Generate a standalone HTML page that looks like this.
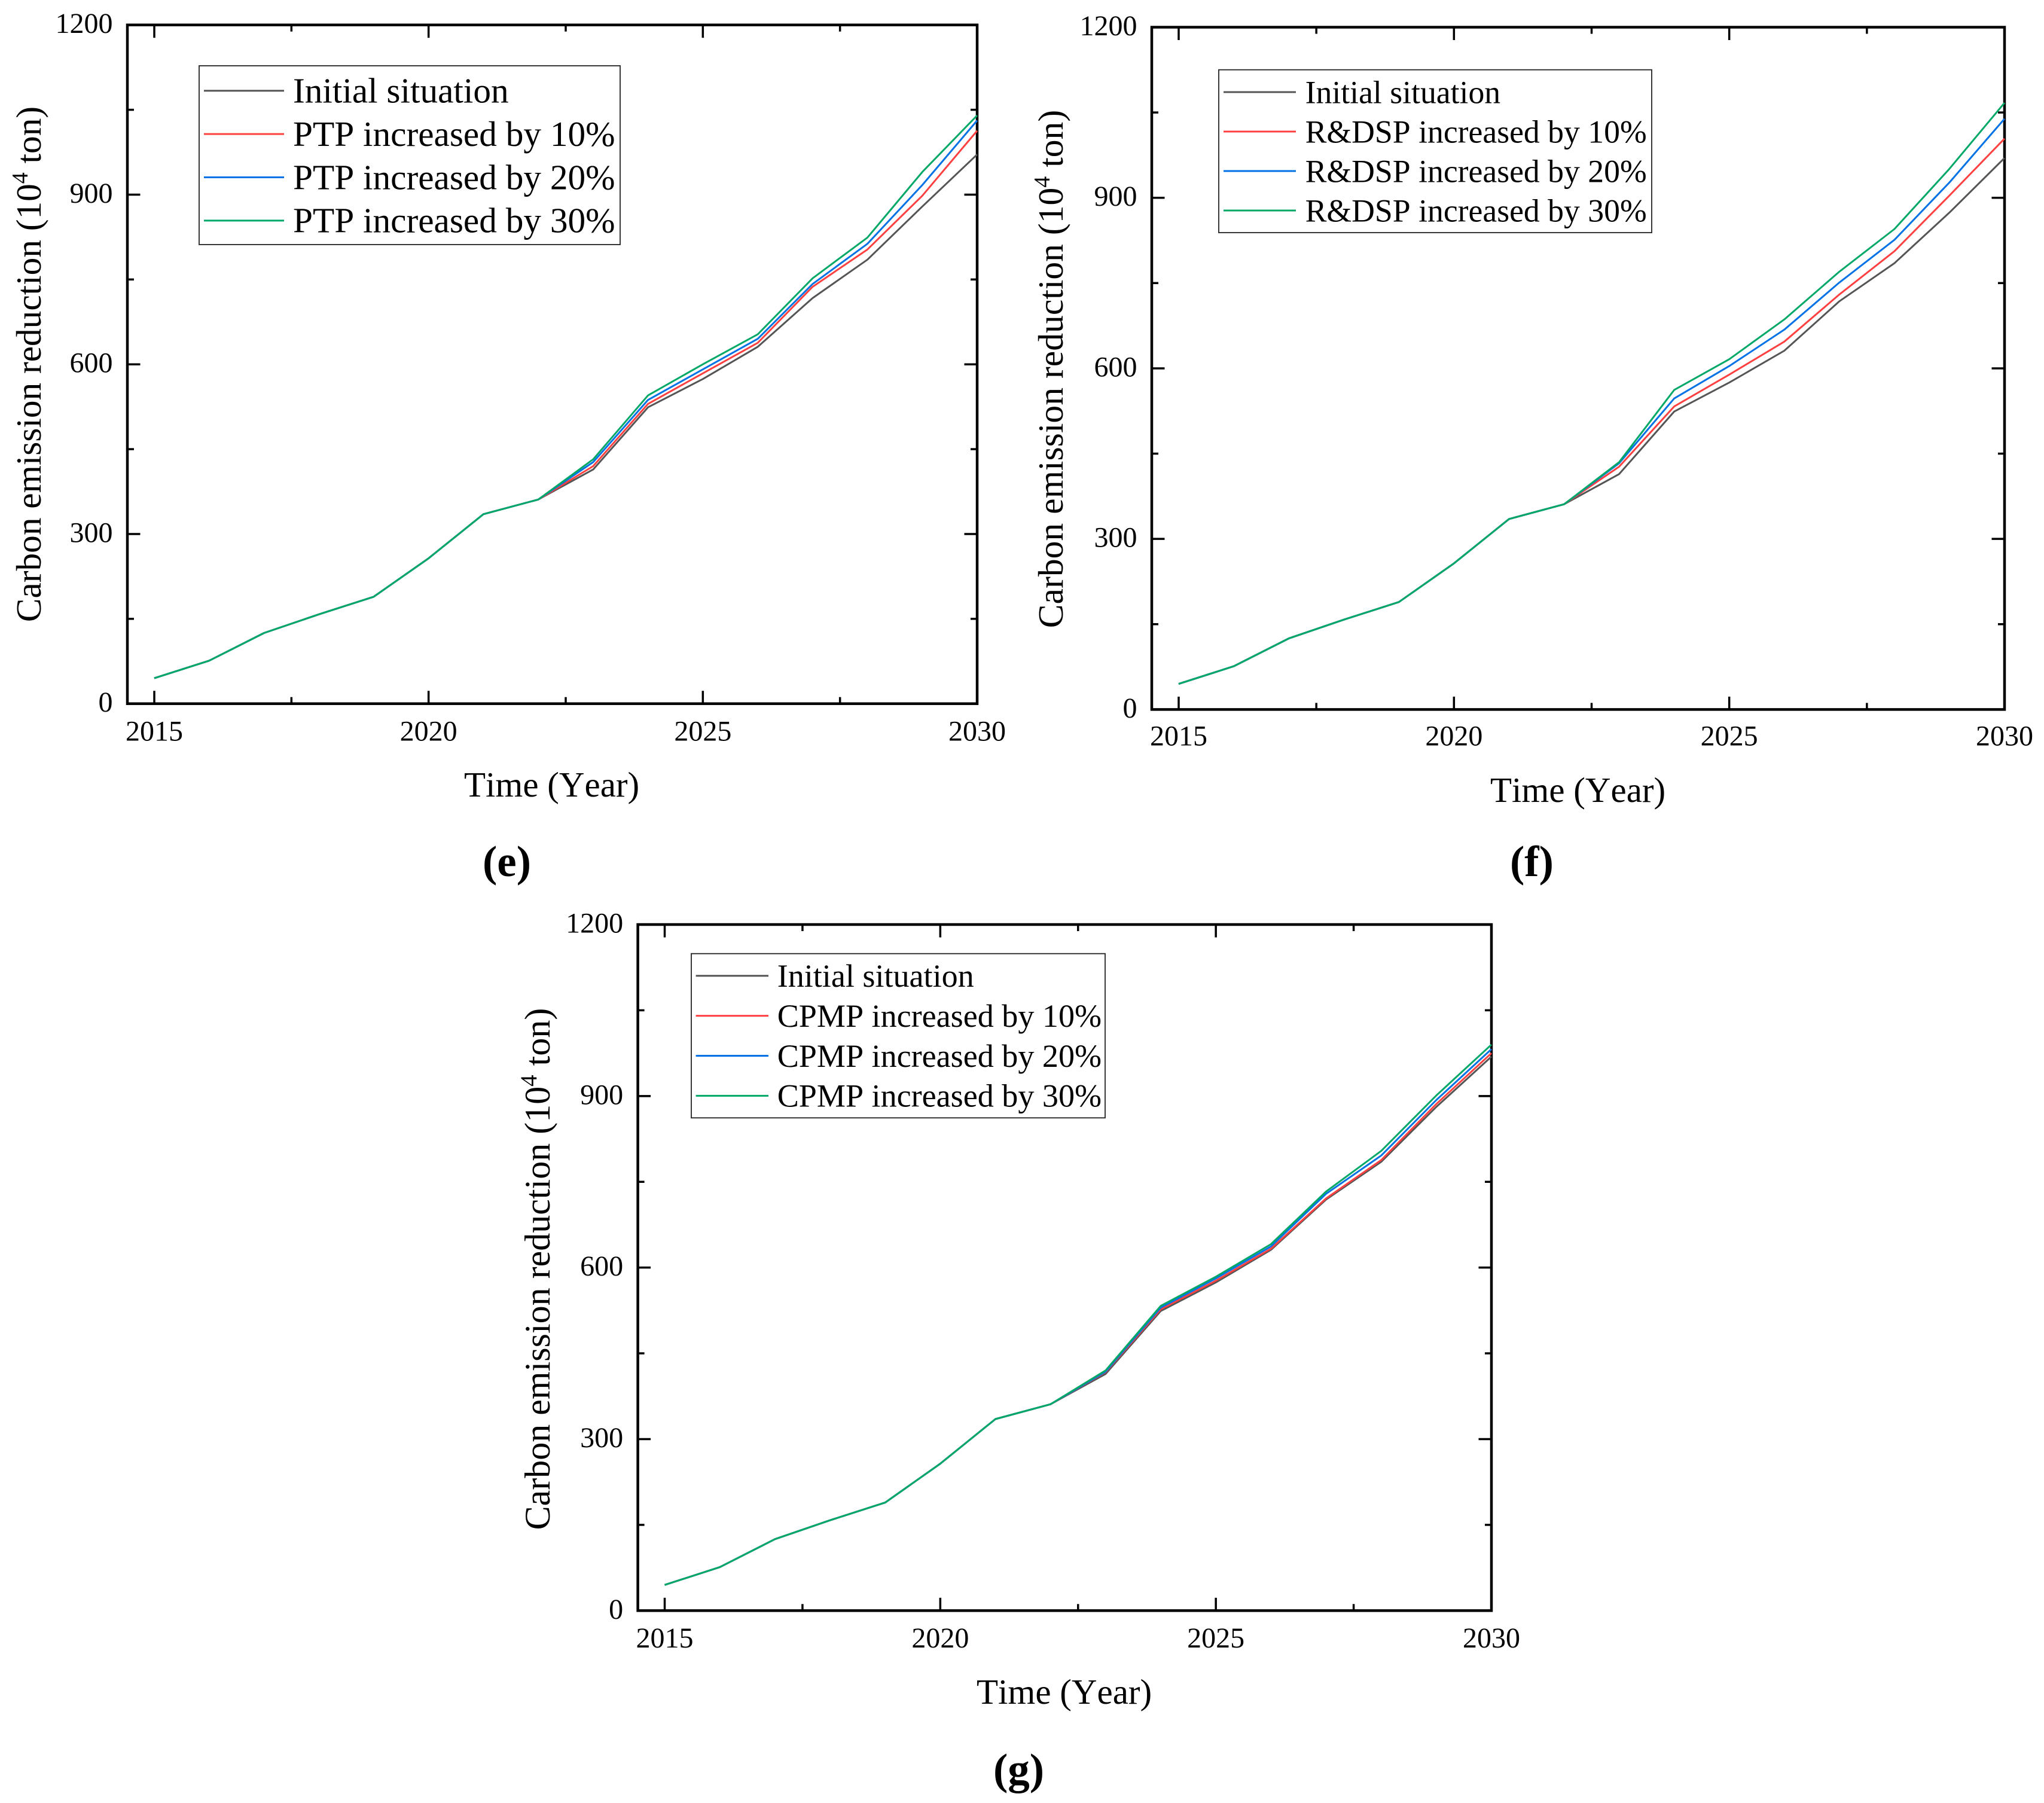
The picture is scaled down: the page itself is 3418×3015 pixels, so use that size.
<!DOCTYPE html>
<html lang="en">
<head>
<meta charset="utf-8">
<title>Carbon emission reduction sensitivity charts</title>
<style>
html,body{margin:0;padding:0;background:#fff;width:3418px;height:3015px;overflow:hidden}
svg{display:block}
text{font-family:"Liberation Serif","Times New Roman",serif;fill:#000;font-kerning:none}
</style>
</head>
<body>
<svg id="figure" xmlns="http://www.w3.org/2000/svg" width="3418" height="3015" viewBox="0 0 3418 3015">
  <rect x="0" y="0" width="3418" height="3015" fill="#fff"/>

  <g id="panel-e"></g>
  <g id="panel-f"></g>
  <g id="panel-g"></g>

  <text font-size="59.3" text-anchor="middle" transform="translate(68 609) rotate(-90)">Carbon emission reduction (10<tspan font-size="38" dy="-22">4</tspan><tspan dy="22"> ton)</tspan></text>
  <text font-size="59" x="776" y="1332">Time (Year)</text>
  <text font-size="73" font-weight="bold" x="807" y="1465">(e)</text>

  <text font-size="59.6" text-anchor="middle" transform="translate(1777 617) rotate(-90)">Carbon emission reduction (10<tspan font-size="38" dy="-22">4</tspan><tspan dy="22"> ton)</tspan></text>
  <text font-size="59" x="2492" y="1341">Time (Year)</text>
  <text font-size="73" font-weight="bold" x="2525" y="1465">(f)</text>

  <text font-size="60" text-anchor="middle" transform="translate(919 2122) rotate(-90)">Carbon emission reduction (10<tspan font-size="39" dy="-22">4</tspan><tspan dy="22"> ton)</tspan></text>
  <text font-size="59" x="1633" y="2849">Time (Year)</text>
  <text font-size="73" font-weight="bold" x="1661" y="2983">(g)</text>
</svg>

<script>
const years = [2015, 2016, 2017, 2018, 2019, 2020, 2021, 2022, 2023, 2024, 2025, 2026, 2027, 2028, 2029, 2030];
const yMajorValues = [0, 300, 600, 900, 1200];
const yMinorValues = [150, 450, 750, 1050];
const xMajorValues = [2015, 2020, 2025, 2030];
const xMinorValues = [2017.5, 2022.5, 2027.5];
const seriesColors = ['#555555', '#ff4040', '#0072e6', '#00a868'];

const ptpLabels = ['Initial situation', 'PTP increased by 10%', 'PTP increased by 20%', 'PTP increased by 30%'];
const ptpInitial = [45, 76, 125, 158, 189, 257, 335, 361, 414, 524, 574, 631, 717, 785, 879, 971];
const ptp10 = [45, 76, 125, 158, 189, 257, 335, 361, 420, 530, 584, 638, 737, 803, 898, 1013];
const ptp20 = [45, 76, 125, 158, 189, 257, 335, 361, 427, 537, 591, 645, 742, 813, 917, 1031];
const ptp30 = [45, 76, 125, 158, 189, 257, 335, 361, 432, 545, 600, 653, 752, 824, 940, 1040];

const rdspLabels = ['Initial situation', 'R&DSP increased by 10%', 'R&DSP increased by 20%', 'R&DSP increased by 30%'];
const rdspInitial = [45, 76, 125, 158, 189, 257, 335, 361, 414, 524, 575, 631, 718, 785, 874, 970];
const rdsp10 = [45, 76, 125, 158, 189, 257, 335, 361, 427, 533, 589, 647, 730, 806, 904, 1004];
const rdsp20 = [45, 76, 125, 158, 189, 257, 335, 361, 433, 547, 604, 668, 751, 826, 927, 1039];
const rdsp30 = [45, 76, 125, 158, 189, 257, 335, 361, 435, 562, 616, 686, 770, 845, 951, 1067];

const cpmpLabels = ['Initial situation', 'CPMP increased by 10%', 'CPMP increased by 20%', 'CPMP increased by 30%'];
const cpmpInitial = [45, 76, 125, 158, 189, 257, 335, 361, 414, 524, 574, 631, 719, 785, 881, 969];
const cpmp10 = [45, 76, 125, 158, 189, 257, 335, 361, 417, 527, 577, 633, 721, 788, 886, 975];
const cpmp20 = [45, 76, 125, 158, 189, 257, 335, 361, 418, 530, 581, 637, 729, 796, 893, 982];
const cpmp30 = [45, 76, 125, 158, 189, 257, 335, 361, 420, 533, 584, 641, 733, 804, 901, 990];

const SVG_NS = 'http://www.w3.org/2000/svg';

function makeEl(tag, attrs, parent) {
  const el = document.createElementNS(SVG_NS, tag);
  for (const k in attrs) el.setAttribute(k, attrs[k]);
  parent.appendChild(el);
  return el;
}

function drawPanel(cfg) {
  const root = document.getElementById(cfg.id);
  const xScale = v => cfg.x2015 + (v - 2015) * (cfg.x2030 - cfg.x2015) / 15;
  const yScale = v => cfg.y0 + v * (cfg.y1200 - cfg.y0) / 1200;
  const left = cfg.left, right = cfg.x2030, top = cfg.y1200, bottom = cfg.y0;
  const MAJOR = 21.5, MINOR = 11;

  const frame = makeEl('rect', {x: left, y: top, width: right - left, height: bottom - top, fill: 'none', stroke: '#000', 'stroke-width': 4.5}, root);
  
  

  function yTick(v, len, labelled) {
    const y = yScale(v);
    const a = makeEl('line', {x1: left, x2: left + len, y1: y, y2: y, stroke: '#000', 'stroke-width': 3.5}, root);
    
    
    const b = makeEl('line', {x1: right, x2: right - len, y1: y, y2: y, stroke: '#000', 'stroke-width': 3.5}, root);
    
    
    if (labelled) {
      const t = makeEl('text', {x: left - 24.5, y: y + 13.5, 'font-size': 48, 'text-anchor': 'end'}, root);
      
      
      t.textContent = String(v);
    }
  }
  function xTick(v, len, labelled) {
    const x = xScale(v);
    const a = makeEl('line', {x1: x, x2: x, y1: bottom, y2: bottom - len, stroke: '#000', 'stroke-width': 3.5}, root);
    
    
    const b = makeEl('line', {x1: x, x2: x, y1: top, y2: top + len, stroke: '#000', 'stroke-width': 3.5}, root);
    
    
    if (labelled) {
      const t = makeEl('text', {x: x, y: bottom + cfg.xLabelGap, 'font-size': 48, 'text-anchor': 'middle'}, root);
      
      
      t.textContent = String(v);
    }
  }
  yMajorValues.forEach(v => yTick(v, MAJOR, true));
  yMinorValues.forEach(v => yTick(v, MINOR, false));
  xMajorValues.forEach(v => xTick(v, MAJOR, true));
  xMinorValues.forEach(v => xTick(v, MINOR, false));

  cfg.series.forEach((values, i) => {
    const pts = values.map((v, j) => xScale(years[j]).toFixed(1) + ',' + yScale(v).toFixed(1)).join(' ');
    const line = makeEl('polyline', {points: pts, fill: 'none', stroke: seriesColors[i], 'stroke-width': 3, 'stroke-linejoin': 'round'}, root);
    
    
  });

  const lg = cfg.legend;
  const box = makeEl('rect', {x: lg.x, y: lg.y, width: lg.w, height: lg.h, fill: '#fff', stroke: '#222', 'stroke-width': 1.8}, root);
  
  
  cfg.labels.forEach((label, i) => {
    const swatch = makeEl('line', {x1: lg.lineX1, x2: lg.lineX2, y1: lg.first + i * lg.step, y2: lg.first + i * lg.step, stroke: seriesColors[i], 'stroke-width': 3}, root);
    
    
    const t = makeEl('text', {x: lg.textX, y: lg.base + i * lg.step, 'font-size': lg.font}, root);
    
    
    t.textContent = label;
  });
}

drawPanel({
  id: 'panel-e', left: 213, x2015: 258, x2030: 1634, y0: 1176.7, y1200: 41.7, xLabelGap: 61.6,
  series: [ptpInitial, ptp10, ptp20, ptp30], labels: ptpLabels,
  legend: {x: 333, y: 110, w: 704, h: 299, lineX1: 341, lineX2: 475, first: 151.7, step: 72.4, textX: 490, base: 171.5, font: 59.3}
});
drawPanel({
  id: 'panel-f', left: 1926, x2015: 1971, x2030: 3352, y0: 1186.4, y1200: 45.5, xLabelGap: 60.3,
  series: [rdspInitial, rdsp10, rdsp20, rdsp30], labels: rdspLabels,
  legend: {x: 2038, y: 116.7, w: 724, h: 272.3, lineX1: 2046, lineX2: 2167, first: 154, step: 66, textX: 2182.6, base: 172.5, font: 53.7}
});
drawPanel({
  id: 'panel-g', left: 1066.6, x2015: 1111.5, x2030: 2494, y0: 2693.3, y1200: 1546, xLabelGap: 61.7,
  series: [cpmpInitial, cpmp10, cpmp20, cpmp30], labels: cpmpLabels,
  legend: {x: 1156, y: 1594.7, w: 692, h: 274.6, lineX1: 1163.6, lineX2: 1285, first: 1631.7, step: 66.9, textX: 1299.7, base: 1650, font: 54.1}
});
</script>
</body>
</html>
